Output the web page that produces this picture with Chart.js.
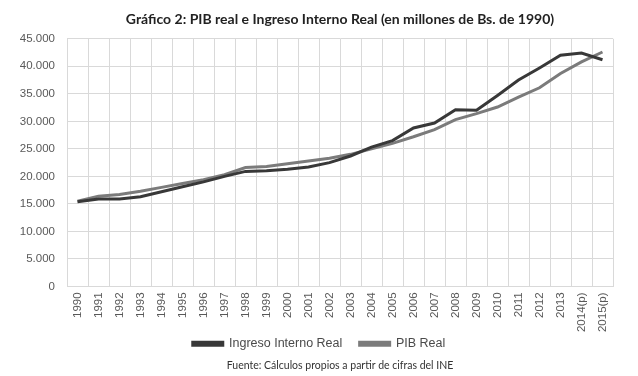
<!DOCTYPE html>
<html>
<head>
<meta charset="utf-8">
<script src="https://cdn.jsdelivr.net/npm/chart.js@4/dist/chart.umd.min.js"></script>
<style>
  html, body { margin: 0; padding: 0; background: #ffffff; }
  #wrap { width: 638px; height: 376px; }
</style>
</head>
<body>
<div id="wrap"><canvas id="c" width="638" height="376"></canvas></div>
<script>
const years = ["1990","1991","1992","1993","1994","1995","1996","1997","1998","1999","2000","2001","2002","2003","2004","2005","2006","2007","2008","2009","2010","2011","2012","2013","2014(p)","2015(p)"];
const ingresoInternoReal = [15400,15900,15900,16300,17200,18100,19000,20000,20900,21000,21300,21700,22500,23700,25300,26500,28800,29700,32100,32000,34700,37500,39700,42000,42400,41200];
const pibReal = [15500,16400,16700,17300,18000,18700,19400,20300,21600,21800,22300,22800,23300,24000,25000,26000,27200,28500,30300,31400,32600,34400,36100,38700,40800,42600];
const yTicks = [0,5000,10000,15000,20000,25000,30000,35000,40000,45000];
const titleText = "Gráfico 2: PIB real e Ingreso Interno Real (en millones de Bs. de 1990)";
const sourceText = "Fuente: Cálculos propios a partir de cifras del INE";

function fmt(v) {
  return v.toString().replace(/\B(?=(\d{3})+(?!\d))/g, ".");
}

new Chart(document.getElementById("c"), {
  type: "line",
  data: {
    labels: years,
    datasets: [
      { label: "Ingreso Interno Real", data: ingresoInternoReal, borderColor: "#383838", backgroundColor: "#383838", borderWidth: 3, pointRadius: 0, tension: 0 },
      { label: "PIB Real", data: pibReal, borderColor: "#7b7b7b", backgroundColor: "#7b7b7b", borderWidth: 3, pointRadius: 0, tension: 0 }
    ]
  },
  options: {
    responsive: false,
    animation: false,
    devicePixelRatio: 1,
    layout: { padding: 0 },
    scales: {
      x: {
        offset: true,
        grid: { offset: true, color: "#d9d9d9", lineWidth: 1, drawTicks: false },
        border: { color: "#d9d9d9" },
        ticks: { minRotation: 90, maxRotation: 90, autoSkip: false, color: "#595959", padding: 6, font: { family: "Liberation Sans", size: 11.5 } },
        afterFit: (s) => { s.height = 51; }
      },
      y: {
        min: 0, max: 45000,
        afterBuildTicks: (s) => { s.ticks = yTicks.map(v => ({ value: v })); },
        grid: { color: "#d9d9d9", lineWidth: 1, drawTicks: false },
        border: { color: "#d9d9d9" },
        ticks: { color: "#595959", padding: 12, font: { family: "Liberation Sans", size: 11.5 }, callback: (v) => fmt(v) },
        afterFit: (s) => { s.width = 67; }
      },
      yRight: {
        position: "right",
        display: true,
        min: 0, max: 45000,
        grid: { drawOnChartArea: false, drawTicks: false },
        border: { display: false },
        ticks: { display: false },
        afterFit: (s) => { s.width = 25; }
      }
    },
    plugins: {
      title: {
        display: true, text: titleText, fullSize: false,
        color: "#222222", font: { family: "Lato", size: 14, weight: "bold" },
        padding: { top: 11, bottom: 11 }
      },
      subtitle: {
        display: true, text: sourceText, position: "bottom", fullSize: false,
        color: "#333333", font: { family: "Lato", size: 10.5, weight: "normal" },
        padding: { top: 3, bottom: 4 }
      },
      legend: {
        position: "bottom",
        maxHeight: 19,
        labels: {
          boxWidth: 30, boxHeight: 3, color: "#4a4a4a", padding: 0,
          font: { family: "Liberation Sans", size: 12.5, weight: "normal" },
          generateLabels: (chart) => {
            const items = Chart.defaults.plugins.legend.labels.generateLabels(chart);
            items.forEach((it, i) => { if (i < items.length - 1) it.text = it.text + "     "; });
            return items;
          }
        }
      },
      tooltip: { enabled: false }
    }
  }
});
</script>
</body>
</html>
